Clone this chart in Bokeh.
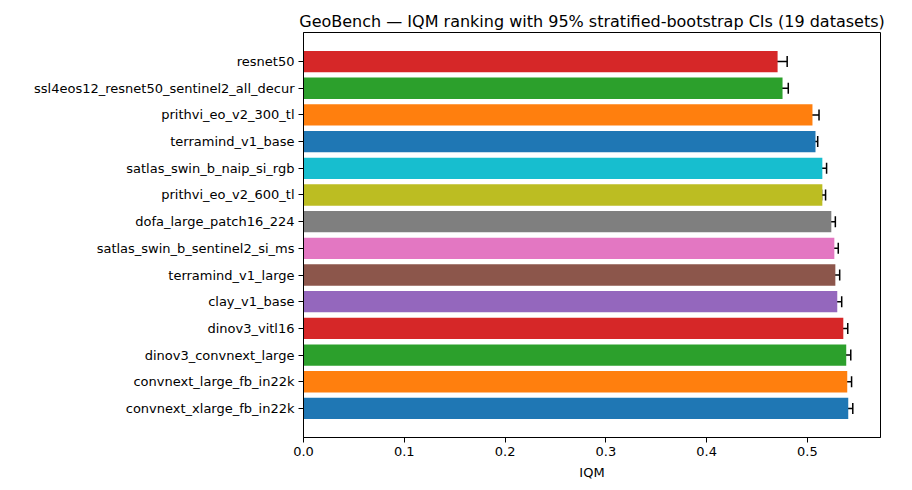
from bokeh.plotting import figure
from bokeh.models import ColumnDataSource, Range1d, FixedTicker, Whisker, TeeHead, NumeralTickFormatter
from bokeh.embed import file_html
from bokeh.resources import INLINE

# bottom -> top
models = [
    "convnext_xlarge_fb_in22k",
    "convnext_large_fb_in22k",
    "dinov3_convnext_large",
    "dinov3_vitl16",
    "clay_v1_base",
    "terramind_v1_large",
    "satlas_swin_b_sentinel2_si_ms",
    "dofa_large_patch16_224",
    "prithvi_eo_v2_600_tl",
    "satlas_swin_b_naip_si_rgb",
    "terramind_v1_base",
    "prithvi_eo_v2_300_tl",
    "ssl4eos12_resnet50_sentinel2_all_decur",
    "resnet50",
]
iqm = [0.5405, 0.5395, 0.5385, 0.5356, 0.5296, 0.5277, 0.5267, 0.5237,
       0.5148, 0.5148, 0.5080, 0.5050, 0.4753, 0.4704]
ci_low = [0.5380, 0.5370, 0.5350, 0.5320, 0.5264, 0.5250, 0.5224, 0.5207,
          0.5140, 0.5132, 0.5063, 0.4970, 0.4697, 0.4615]
ci_high = [0.5450, 0.5438, 0.5430, 0.5400, 0.5340, 0.5320, 0.5306, 0.5277,
           0.5180, 0.5190, 0.5102, 0.5115, 0.4810, 0.4799]

tab10 = ["#1f77b4", "#ff7f0e", "#2ca02c", "#d62728", "#9467bd",
         "#8c564b", "#e377c2", "#7f7f7f", "#bcbd22", "#17becf"]
colors = [tab10[i % 10] for i in range(len(models))]
ypos = list(range(len(models)))

src = ColumnDataSource(dict(y=ypos, iqm=iqm, lo=ci_low, hi=ci_high, color=colors, name=models))

p = figure(width=912, height=490, output_backend="svg", toolbar_location=None,
           x_range=Range1d(0, 0.5725), y_range=Range1d(-1.09, len(models) - 1 + 1.09),
           min_border_left=303, min_border_right=32, min_border_top=32, min_border_bottom=53,
           title="GeoBench \u2014 IQM ranking with 95% stratified-bootstrap CIs (19 datasets)")

p.hbar(y="y", right="iqm", left=0, height=0.8, fill_color="color", line_color=None, source=src)

w = Whisker(base="y", lower="lo", upper="hi", dimension="width", source=src,
            line_color="black", line_width=1.5,
            lower_head=TeeHead(size=11, line_color="black", line_width=1.5),
            upper_head=TeeHead(size=11, line_color="black", line_width=1.5))
p.add_layout(w)

p.title.align = "center"
p.title.text_font = "DejaVu Sans"
p.title.text_font_size = "16px"
p.title.text_font_style = "normal"
p.title.text_color = "black"
p.title.standoff = 4

p.xgrid.visible = False
p.ygrid.visible = False
p.outline_line_color = "black"
p.outline_line_width = 1
p.outline_line_alpha = 1

p.xaxis.ticker = FixedTicker(ticks=[0.0, 0.1, 0.2, 0.3, 0.4, 0.5])
p.xaxis.formatter = NumeralTickFormatter(format="0.0")
p.xaxis.axis_label = "IQM"
p.xaxis.axis_label_text_font_style = "normal"
p.xaxis.axis_label_text_font = "DejaVu Sans"
p.xaxis.axis_label_text_font_size = "13px"
p.xaxis.axis_label_text_color = "black"
p.xaxis.axis_label_standoff = 6

p.yaxis.ticker = FixedTicker(ticks=ypos)
p.yaxis.major_label_overrides = {i: n for i, n in enumerate(models)}

for ax in (p.xaxis, p.yaxis):
    ax.axis_line_color = "black"
    ax.major_tick_line_color = "black"
    ax.major_tick_out = 5
    ax.major_tick_in = 0
    ax.minor_tick_line_color = None
    ax.major_label_text_font = "DejaVu Sans"
    ax.major_label_text_font_size = "13px"
    ax.major_label_text_color = "black"
    ax.major_label_standoff = 4

open("out.html", "w").write(file_html(p, INLINE))
